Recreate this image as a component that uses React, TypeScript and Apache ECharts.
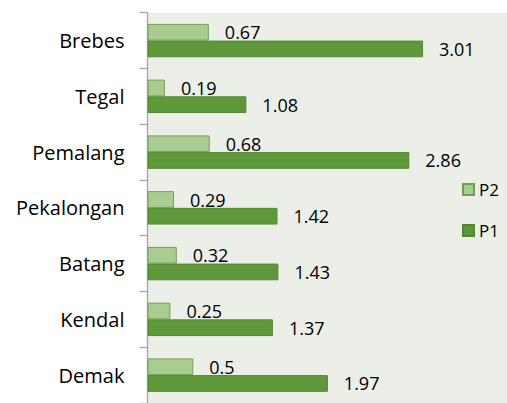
import React, { useEffect, useRef } from "react";
import * as echarts from "echarts";

const categories = ["Brebes", "Tegal", "Pemalang", "Pekalongan", "Batang", "Kendal", "Demak"];
const p2Values = [0.67, 0.19, 0.68, 0.29, 0.32, 0.25, 0.5];
const p1Values = [3.01, 1.08, 2.86, 1.42, 1.43, 1.37, 1.97];

const FONT = "Open Sans";

export default function App() {
  const ref = useRef<HTMLDivElement>(null);
  useEffect(() => {
    if (!ref.current) return;
    const chart = echarts.init(ref.current, undefined, { renderer: "svg" });
    const labelCfg = {
      show: true,
      position: "right",
      distance: 16,
      color: "#000",
      fontFamily: FONT,
      fontSize: 18,
    };
    chart.setOption({
      animation: false,
      backgroundColor: "#ffffff",
      grid: {
        show: true,
        left: 147.5,
        right: 0,
        top: 12.7,
        bottom: -6.3,
        backgroundColor: "#ebefe8",
        borderWidth: 0,
      },
      legend: {
        data: ["P2", "P1"],
        orient: "vertical",
        left: 457,
        top: 176,
        itemWidth: 11,
        itemHeight: 11,
        itemGap: 24,
        icon: "rect",
        textStyle: { fontFamily: FONT, fontSize: 17, color: "#000" },
      },
      xAxis: {
        type: "value",
        min: 0,
        max: 3.927,
        show: false,
      },
      yAxis: {
        type: "category",
        data: categories,
        inverse: true,
        axisLine: { show: true, lineStyle: { color: "#a6a6a6", width: 1.3 } },
        axisTick: { show: true, length: 8, lineStyle: { color: "#a6a6a6", width: 1.3 } },
        axisLabel: { margin: 23, color: "#000", fontFamily: FONT, fontSize: 20 },
        splitLine: { show: false },
      },
      series: [
        {
          name: "P2",
          type: "bar",
          data: p2Values,
          barWidth: 16.7,
          barGap: "0%",
          z: 2,
          itemStyle: { color: "#a8cc92", borderColor: "#6fa24f", borderWidth: 1 },
          label: labelCfg,
        },
        {
          name: "P1",
          type: "bar",
          data: p1Values,
          barWidth: 16.7,
          barGap: "0%",
          z: 3,
          itemStyle: { color: "#5f983b", borderColor: "#4f8a2f", borderWidth: 1 },
          label: labelCfg,
        },
      ],
    });
    return () => chart.dispose();
  }, []);
  return <div ref={ref} style={{ width: 507, height: 403, position: "absolute", left: 0, top: 0 }} />;
}
